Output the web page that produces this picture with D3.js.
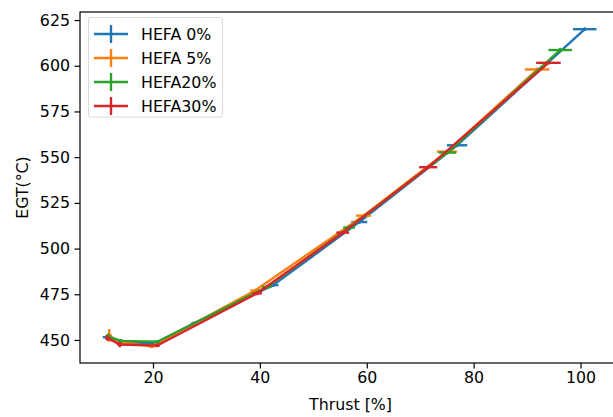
<!DOCTYPE html>
<html>
<head>
<meta charset="utf-8">
<script src="https://d3js.org/d3.v7.min.js"></script>
<style>
  body { margin: 0; background: #fff; }
  svg { display: block; }
  text { font-family: "DejaVu Sans", sans-serif; }
</style>
</head>
<body>
<svg id="chart" width="613" height="417"></svg>
<script>
// ---- data ----
const seriesNames = ["HEFA 0%", "HEFA 5%", "HEFA20%", "HEFA30%"];
const seriesColors = ["#1f77b4", "#ff7f0e", "#2ca02c", "#d62728"];

const hefa0X    = [11.4, 13.8, 20.6, 27.6, 42.5, 58.6, 76.9, 100.8];
const hefa0Y    = [451.5, 448.0, 448.5, 459.0, 480.0, 514.5, 556.5, 620.0];
const hefa0XErr = [0.8, 0.6, 0.5, 0.5, 1.0, 1.5, 1.9, 2.2];
const hefa0YErr = [1.5, 1.5, 1.0, 1.0, 1.0, 1.0, 1.0, 1.0];

const hefa5X    = [11.8, 13.5, 19.8, 39.1, 59.4, 75.0, 91.9];
const hefa5Y    = [452.5, 449.0, 446.5, 477.0, 518.0, 553.0, 598.0];
const hefa5XErr = [0.5, 0.5, 0.5, 0.9, 1.4, 1.9, 2.3];
const hefa5YErr = [3.5, 1.0, 1.0, 1.0, 1.0, 1.0, 1.0];

const hefa20X    = [11.6, 14.0, 20.8, 41.3, 56.7, 75.1, 96.2];
const hefa20Y    = [452.0, 449.5, 449.0, 479.0, 511.5, 552.5, 608.6];
const hefa20XErr = [0.5, 0.5, 0.5, 0.9, 1.1, 1.6, 2.2];
const hefa20YErr = [1.5, 1.0, 1.0, 1.0, 1.0, 1.0, 1.2];

const hefa30X    = [11.5, 13.8, 20.8, 39.5, 55.5, 71.5, 94.0];
const hefa30Y    = [451.0, 447.5, 447.0, 475.5, 508.7, 544.5, 601.6];
const hefa30XErr = [0.5, 0.5, 0.5, 0.9, 1.2, 1.7, 2.3];
const hefa30YErr = [1.5, 1.5, 1.0, 1.0, 1.0, 1.0, 1.0];

const xTicks = [20, 40, 60, 80, 100];
const yTicks = [450, 475, 500, 525, 550, 575, 600, 625];
const xLabel = "Thrust [%]";
const yLabel = "EGT(°C)";

// ---- build ----
const series = [
  {name: seriesNames[0], color: seriesColors[0], x: hefa0X, y: hefa0Y, xe: hefa0XErr, ye: hefa0YErr},
  {name: seriesNames[1], color: seriesColors[1], x: hefa5X, y: hefa5Y, xe: hefa5XErr, ye: hefa5YErr},
  {name: seriesNames[2], color: seriesColors[2], x: hefa20X, y: hefa20Y, xe: hefa20XErr, ye: hefa20YErr},
  {name: seriesNames[3], color: seriesColors[3], x: hefa30X, y: hefa30Y, xe: hefa30XErr, ye: hefa30YErr}
];

const svg = d3.select("#chart");
const L = 80, R = 621, T = 12, B = 363;
const x = d3.scaleLinear().domain([6.34, 107.58]).range([L, R]);
const y = d3.scaleLinear().domain([437.4, 629.4]).range([B, T]);

const fs = 15.8;
const lw = 2.4;

svg.append("defs").append("clipPath").attr("id", "clip")
  .append("rect").attr("x", L).attr("y", T).attr("width", R - L).attr("height", B - T);

const plot = svg.append("g").attr("clip-path", "url(#clip)");

series.forEach(s => {
  const pts = s.x.map((v, i) => ({x: v, y: s.y[i], xe: s.xe[i], ye: s.ye[i]}));
  const g = plot.append("g");
  g.append("path")
    .attr("d", d3.line().x(d => x(d.x)).y(d => y(d.y))(pts))
    .attr("fill", "none").attr("stroke", s.color).attr("stroke-width", lw)
    .attr("stroke-linejoin", "round").attr("stroke-linecap", "square");
  g.selectAll(".xe").data(pts).enter().append("line")
    .attr("x1", d => x(d.x - d.xe)).attr("x2", d => x(d.x + d.xe))
    .attr("y1", d => y(d.y)).attr("y2", d => y(d.y))
    .attr("stroke", s.color).attr("stroke-width", lw);
  g.selectAll(".ye").data(pts).enter().append("line")
    .attr("x1", d => x(d.x)).attr("x2", d => x(d.x))
    .attr("y1", d => y(d.y - d.ye)).attr("y2", d => y(d.y + d.ye))
    .attr("stroke", s.color).attr("stroke-width", lw);
});

// axes
const xAxis = d3.axisBottom(x).tickValues(xTicks).tickSize(5.5).tickPadding(3.5).tickFormat(d3.format("d"));
const yAxis = d3.axisLeft(y).tickValues(yTicks).tickSize(5.5).tickPadding(4.5).tickFormat(d3.format("d"));
const gx = svg.append("g").attr("transform", `translate(0,${B})`).call(xAxis);
const gy = svg.append("g").attr("transform", `translate(${L},0)`).call(yAxis);
[gx, gy].forEach(g => {
  g.select(".domain").remove();
  g.selectAll(".tick line").attr("stroke", "#000").attr("stroke-width", 1.2);
  g.selectAll(".tick text").attr("fill", "#000").style("font-size", fs + "px")
    .style("font-family", "DejaVu Sans, sans-serif");
});

// spines
svg.append("rect").attr("x", L).attr("y", T).attr("width", R - L).attr("height", B - T)
  .attr("fill", "none").attr("stroke", "#000").attr("stroke-width", 1.2);

// labels
svg.append("text").attr("x", (L + R) / 2).attr("y", 410).attr("text-anchor", "middle")
  .style("font-size", fs + "px").text(xLabel);
svg.append("text").attr("transform", `translate(28,${(T + B) / 2}) rotate(-90)`)
  .attr("text-anchor", "middle").style("font-size", fs + "px").text(yLabel);

// legend
const lg = svg.append("g");
lg.append("rect").attr("x", 88.5).attr("y", 17.5).attr("width", 134).attr("height", 99.5)
  .attr("rx", 2.5).attr("fill", "#fff").attr("fill-opacity", 0.8)
  .attr("stroke", "#d9d9d9").attr("stroke-width", 1);
series.forEach((s, i) => {
  const cy = 34 + i * 24;
  lg.append("line").attr("x1", 94).attr("x2", 128).attr("y1", cy).attr("y2", cy)
    .attr("stroke", s.color).attr("stroke-width", lw);
  lg.append("line").attr("x1", 111).attr("x2", 111).attr("y1", cy - 9).attr("y2", cy + 9)
    .attr("stroke", s.color).attr("stroke-width", lw);
  lg.append("text").attr("x", 141).attr("y", cy).attr("dy", "0.36em")
    .style("font-size", fs + "px").text(s.name);
});
</script>
</body>
</html>
